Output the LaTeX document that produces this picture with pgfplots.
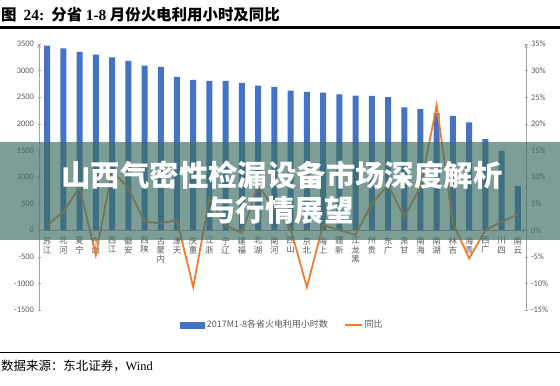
\documentclass[border=0pt]{standalone}
\usepackage{fontspec}
\usepackage{pgfplots}
\pgfplotsset{compat=1.18}
\setmainfont{Noto Sans CJK SC}
\newfontfamily\cjk{Noto Sans CJK SC}
\newfontfamily\carlito{Carlito}
\newfontfamily\tnr{Liberation Serif}
\definecolor{barblue}{HTML}{4472C4}
\definecolor{lineorange}{HTML}{ED7D31}
\definecolor{ticktext}{HTML}{595959}
\definecolor{axisgray}{HTML}{A6A6A6}
\definecolor{banner}{RGB}{62,112,100}

\pgfplotsset{
  commonaxis/.style={
    at={(39bp,75bp)}, anchor=south west, scale only axis,
    width=487bp, height=266bp,
    xmin=-0.5, xmax=29.5, enlargelimits=false,
    axis line style={axisgray, line width=0.8bp},
    every inner x axis line/.append style={-},
    every outer x axis line/.append style={-},
    every inner y axis line/.append style={-},
    every outer y axis line/.append style={-},
    hide obscured x ticks=false, hide obscured y ticks=false,
    /pgf/number format/assume math mode=true,
    /pgf/number format/1000 sep={},
    yticklabel style={font=\carlito\fontsize{8.5}{10}\selectfont, text=ticktext},
    ytick style={axisgray, line width=0.6bp},
    tick align=outside, major tick length=3bp,
    clip=false,
  }
}

\begin{document}
\begin{tikzpicture}[x=1bp,y=1bp]
\useasboundingbox (0,0) rectangle (560,385);

% title and rules
\node[anchor=west, inner sep=0pt, font=\cjk\bfseries\fontsize{15.5}{17}\selectfont] at (1,370)
  {图\ \ {\tnr\bfseries 24:}\ \ 分省\ {\tnr\bfseries 1-8}\ 月份火电利用小时及同比};
\fill[black] (0,356.5) rectangle (560,359);
\fill[black] (0,32) rectangle (560,33.5);
\node[anchor=west, inner sep=0pt, font=\cjk\fontsize{12.5}{14}\selectfont] at (1,19)
  {数据来源：东北证券，{\tnr Wind}};

\begin{axis}[commonaxis,
  ymin=-1500, ymax=3500,
  axis x line=middle, axis y line=left,
  ytick={-1500,-1000,...,3500},
  xtick={0,...,29},
  xtick style={draw=none},
  xticklabel style={font=\cjk\fontsize{8.5}{9.5}\selectfont, text=ticktext, align=center, anchor=north, inner sep=0pt, yshift=-5bp},
  xticklabels={{苏\\江},{北\\河},{夏\\宁},{东\\山},{西\\江},{徽\\安},{西\\陕},{古\\蒙\\内},{津\\天},{庆\\重},{江\\浙},{宁\\辽},{建\\福},{北\\湖},{南\\河},{西\\山},{京\\北},{海\\上},{疆\\新},{江\\龙\\黑},{州\\贵},{东\\广},{肃\\甘},{南\\海},{南\\湖},{林\\吉},{海\\青},{西\\广},{川\\四},{南\\云}},
]
\addplot[ybar, bar width=6bp, fill=barblue, draw=none] coordinates {
(0,3470) (1,3420) (2,3350) (3,3300) (4,3250) (5,3185) (6,3095) (7,3070) (8,2880) (9,2825)
(10,2805) (11,2805) (12,2768) (13,2717) (14,2693) (15,2623) (16,2598) (17,2585) (18,2553) (19,2528)
(20,2523) (21,2500) (22,2310) (23,2280) (24,2200) (25,2151) (26,2025) (27,1711) (28,1491) (29,830)
};
\end{axis}

\begin{axis}[commonaxis,
  ymin=-15, ymax=35,
  axis x line=none, axis y line=right,
  ytick={-15,-10,...,35},
  yticklabel={\pgfmathprintnumber{\tick}\%},
  legend style={draw=none, fill=none, legend columns=2, at={(0.5,-0.056)}, anchor=center,
    font=\cjk\fontsize{9}{11}\selectfont, text=ticktext,
    /tikz/every even column/.append style={column sep=14bp}},
]
\addlegendimage{legend image code/.code={\fill[barblue] (0bp,-3bp) rectangle (24bp,3bp);}}
\addlegendentry{2017M1-8各省火电利用小时数}
\addplot[lineorange, line width=1.8bp, mark=none,
  legend image code/.code={\draw[lineorange, line width=1.8bp] (0bp,0bp) -- (17bp,0bp);}] coordinates {
(0,0.9) (1,3.5) (2,8.1) (3,-4.7) (4,11.2) (5,7.9) (6,1.6) (7,1.3) (8,1.9) (9,-10.7)
(10,6.0) (11,0.9) (12,-0.5) (13,8.5) (14,4.0) (15,0.3) (16,-10.7) (17,1.0) (18,0.0) (19,-0.9)
(20,5.0) (21,8.5) (22,2.5) (23,8.2) (24,23.5) (25,1.3) (26,-5.3) (27,0.0) (28,1.6) (29,3.0)
};
\addlegendentry{同比}
\end{axis}

% banner overlay
\fill[banner, fill opacity=0.68] (0,145) rectangle (560,243);
\node[text=white, inner sep=0pt, font=\cjk\bfseries\fontsize{29.5}{35}\selectfont] at (282,210) {山西气密性检漏设备市场深度解析};
\node[text=white, inner sep=0pt, font=\cjk\bfseries\fontsize{29.5}{35}\selectfont] at (280,175) {与行情展望};
\end{tikzpicture}
\end{document}
